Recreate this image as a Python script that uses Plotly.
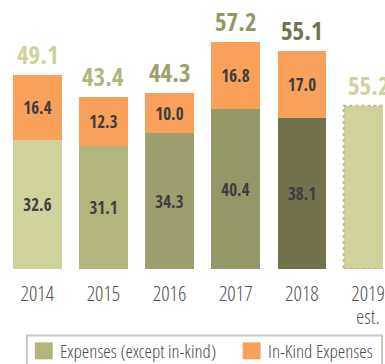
import plotly.graph_objects as go

# Annual expenses, $ millions
years = ["2014", "2015", "2016", "2017", "2018", "2019"]
expenses = [32.6, 31.1, 34.3, 40.4, 38.1, 41.2]      # last value: 2019 estimate
in_kind = [16.4, 12.3, 10.0, 16.8, 17.0]
totals = [49.1, 43.4, 44.3, 57.2, 55.1, 55.2]

green_shades = ["#cfd29b", "#b3b67c", "#9e9f6f", "#949866", "#72734c", "#cfd29b"]
orange = "#f9a15b"
label_dark = "#3d3d3d"
FONT = "Open Sans Condensed, Roboto, sans-serif"
FONT_LIGHT = "Open Sans Condensed Light, Open Sans Condensed, Roboto, sans-serif"

W, H = 385, 364
BOTTOM = 94.5          # px below the zero line
PLOT_H = H - BOTTOM
BAR_W = 0.737

xs = list(range(len(years)))

fig = go.Figure()

fig.add_bar(
    x=xs, y=expenses, width=BAR_W,
    marker=dict(color=green_shades, line=dict(width=0)),
    text=[f"{v:.1f}" for v in expenses[:5]] + [""],
    textposition="inside", insidetextanchor="middle",
    textfont=dict(family=FONT, size=17, color=label_dark, weight="bold"),
    showlegend=False, hoverinfo="skip",
)
fig.add_bar(
    x=xs[:5], y=in_kind, width=BAR_W,
    marker=dict(color=orange, line=dict(width=0)),
    text=[f"{v:.1f}" for v in in_kind],
    textposition="inside", insidetextanchor="middle",
    textfont=dict(family=FONT, size=17, color=label_dark, weight="bold"),
    showlegend=False, hoverinfo="skip",
)

# dotted outline around the estimated year
i_est = len(years) - 1
fig.add_shape(
    type="rect", xref="x", yref="y",
    x0=i_est - BAR_W / 2, x1=i_est + BAR_W / 2, y0=0, y1=expenses[i_est],
    line=dict(color="#b9bc85", width=2, dash="dot"),
    fillcolor="rgba(0,0,0,0)", layer="above",
)

# totals above each column
for i, t in enumerate(totals):
    top = expenses[i] + (in_kind[i] if i < len(in_kind) else 0)
    fig.add_annotation(
        x=xs[i], y=top, text=f"{t:.1f}", showarrow=False,
        yanchor="middle", yshift=21,
        font=dict(family=FONT, size=25, color=green_shades[i], weight="bold"),
    )

fig.add_annotation(
    x=xs[i_est], y=0, text="est.", showarrow=False,
    yanchor="middle", yshift=-47,
    font=dict(family=FONT_LIGHT, size=21, color="#555555"),
)


def py(p):
    """pixel row -> paper y"""
    return (PLOT_H - p) / PLOT_H


def px(p):
    return p / W


# legend
fig.add_shape(type="rect", xref="paper", yref="paper",
              x0=px(27), x1=px(384), y0=py(372), y1=py(336),
              line=dict(color="#c8c8c0", width=2), fillcolor="white", layer="below")
legend_items = [("Expenses (except in-kind)", "#b3b67c", 35),
                ("In-Kind Expenses", orange, 244)]
for name, col, x0 in legend_items:
    fig.add_shape(type="rect", xref="paper", yref="paper",
                  x0=px(x0), x1=px(x0 + 18), y0=py(360), y1=py(343),
                  line=dict(width=0), fillcolor=col)
    fig.add_annotation(xref="paper", yref="paper", x=px(x0 + 23), y=py(351.5),
                       text=name, showarrow=False, xanchor="left", yanchor="middle",
                       font=dict(family=FONT_LIGHT, size=19, color="#4a4a4a"))

fig.update_layout(
    width=W, height=H,
    margin=dict(l=0, r=0, t=0, b=BOTTOM, pad=0),
    barmode="stack", bargap=0,
    plot_bgcolor="white", paper_bgcolor="white",
    font=dict(family=FONT),
    xaxis=dict(range=[-0.564, 5.226], tickvals=xs, ticktext=years,
               tickfont=dict(family=FONT_LIGHT, size=21, color="#555555"),
               showgrid=False, zeroline=False, showline=False,
               ticks="outside", ticklen=0, ticklabelstandoff=6,
               ticklabeloverflow="allow", fixedrange=True),
    yaxis=dict(range=[0, PLOT_H / 3.97], visible=False, fixedrange=True),
    uniformtext=dict(mode=False),
)

fig.write_html("out.html")
